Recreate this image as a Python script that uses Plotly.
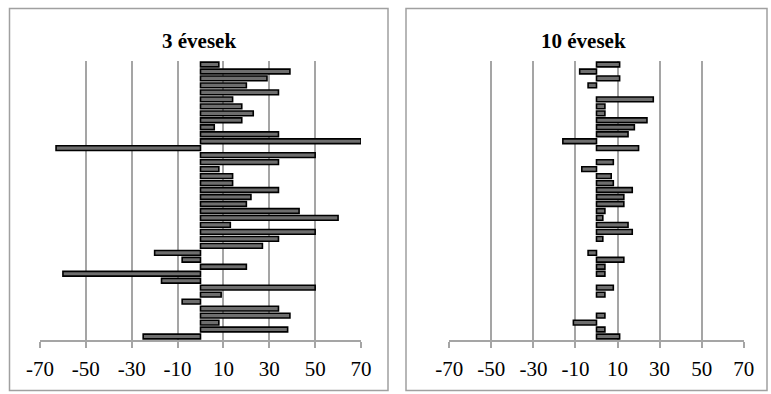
import plotly.graph_objects as go

# Row index (1 = top)
rows = list(range(1, 41))

# 3 évesek panel values
vals_3 = [8, 39, 29, 20, 34, 14, 18, 23, 18, 6,
          34, 70, -63, 50, 34, 8, 14, 14, 34, 22,
          20, 43, 60, 13, 50, 34, 27, -20, -8, 20,
          -60, -17, 50, 9, -8, 34, 39, 8, 38, -25]

# 10 évesek panel values (None = no bar)
vals_10 = [11, -8, 11, -4, None, 27, 4, 4, 24, 18,
           15, -16, 20, None, 8, -7, 7, 8, 17, 13,
           13, 4, 3, 15, 17, 3, None, -4, 13, 4,
           4, None, 8, 4, None, None, 4, -11, 4, 11]

tick_vals = [-70, -50, -30, -10, 10, 30, 50, 70]
tick_text = ["-70", "-50", "-30", "-10", "10", "30", "50", "70"]
titles = ["3 évesek", "10 évesek"]

W, H = 771, 394
SERIF = "Liberation Serif, Times New Roman, serif"
GRID = "#a5a5a5"
BAR_FILL = "#6e6e6e"

fig = go.Figure()
fig.add_trace(go.Bar(x=vals_3, y=rows, orientation="h", xaxis="x", yaxis="y",
                     marker=dict(color=BAR_FILL, line=dict(color="black", width=1.6)),
                     showlegend=False, hoverinfo="x"))
fig.add_trace(go.Bar(x=vals_10, y=rows, orientation="h", xaxis="x2", yaxis="y2",
                     marker=dict(color=BAR_FILL, line=dict(color="black", width=1.6)),
                     showlegend=False, hoverinfo="x"))

def px_x(p):
    return p / W

def px_y(p):
    return 1 - p / H

xaxis_common = dict(range=[-70, 70], tickvals=tick_vals, ticktext=tick_text,
                    showgrid=True, gridcolor=GRID, gridwidth=1.5, zeroline=False,
                    showline=True, linecolor=GRID, linewidth=1.5,
                    ticks="outside", ticklen=6, tickcolor=GRID, tickwidth=1.5,
                    tickfont=dict(family=SERIF, size=21, color="black"),
                    ticklabelstandoff=3, fixedrange=True, automargin=False)
yaxis_common = dict(range=[40.5, 0.5], showgrid=False, zeroline=False, showline=False,
                    showticklabels=False, ticks="", fixedrange=True, automargin=False)

ytop, ybot = 61, 340
fig.update_layout(
    width=W, height=H,
    margin=dict(l=0, r=0, t=0, b=0, pad=0, autoexpand=False),
    paper_bgcolor="white", plot_bgcolor="white",
    bargap=0.32,
    xaxis=dict(domain=[px_x(40), px_x(361)], anchor="y", **xaxis_common),
    yaxis=dict(domain=[px_y(ybot), px_y(ytop)], anchor="x", **yaxis_common),
    xaxis2=dict(domain=[px_x(449.3), px_x(743.7)], anchor="y2", **xaxis_common),
    yaxis2=dict(domain=[px_y(ybot), px_y(ytop)], anchor="x2", **yaxis_common),
    annotations=[
        dict(text="<b>%s</b>" % titles[0], x=px_x(199), y=px_y(41), xref="paper", yref="paper",
             showarrow=False, xanchor="center", yanchor="middle",
             font=dict(family=SERIF, size=21, color="black")),
        dict(text="<b>%s</b>" % titles[1], x=px_x(583), y=px_y(41), xref="paper", yref="paper",
             showarrow=False, xanchor="center", yanchor="middle",
             font=dict(family=SERIF, size=21, color="black")),
    ],
    shapes=[
        dict(type="rect", xref="paper", yref="paper",
             x0=px_x(9.5), x1=px_x(388), y0=px_y(390.5), y1=px_y(8.5),
             line=dict(color="#a0a0a0", width=1.5), fillcolor="rgba(0,0,0,0)", layer="below"),
        dict(type="rect", xref="paper", yref="paper",
             x0=px_x(406), x1=px_x(767), y0=px_y(390.5), y1=px_y(8.5),
             line=dict(color="#a0a0a0", width=1.5), fillcolor="rgba(0,0,0,0)", layer="below"),
    ],
)

fig.write_html("out.html", config={"displayModeBar": False},
               post_script="document.body.style.margin='0';document.body.style.overflow='hidden';")
